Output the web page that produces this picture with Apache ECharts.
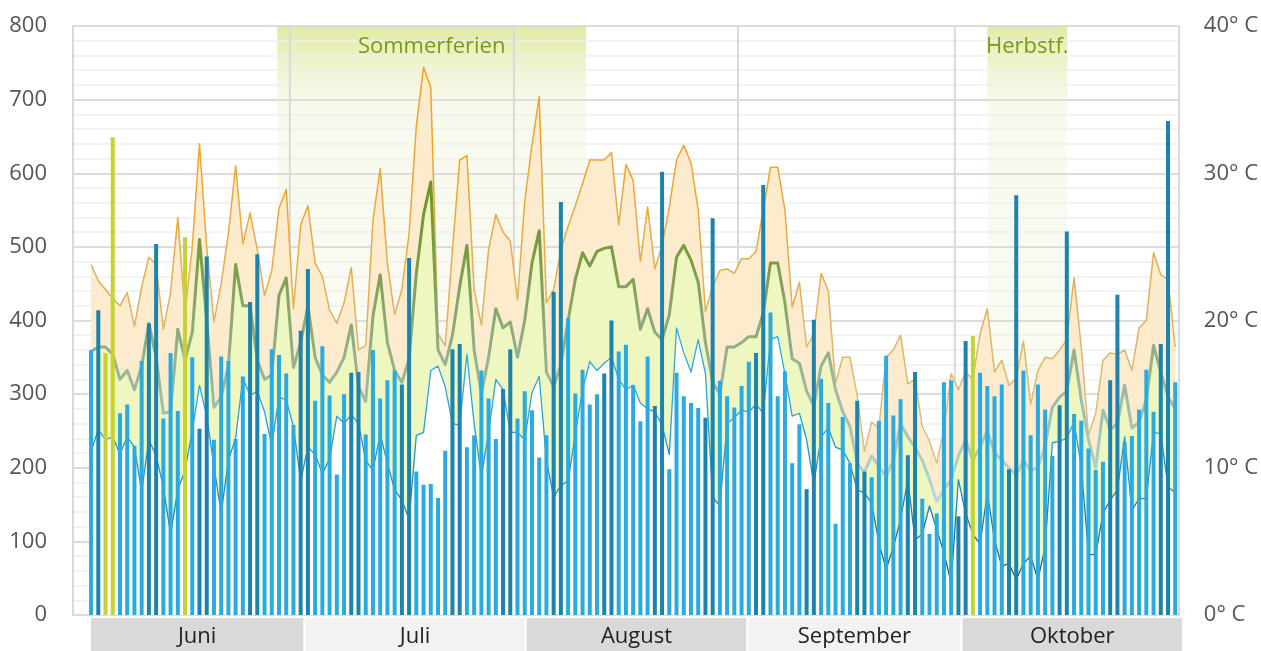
<!DOCTYPE html>
<html>
<head>
<meta charset="utf-8">
<title>Besucher und Temperatur</title>
<script src="https://cdn.jsdelivr.net/npm/echarts@6.0.0/dist/echarts.min.js"></script>
<style>
html, body { margin: 0; padding: 0; background: #fff; }
#chart { width: 1261px; height: 651px; }
</style>
</head>
<body>
<div id="chart"></div>
<script>
// one value per day, starting 3 June 2022
var firstDay = '2022-06-03';

var visitors = [
  360,414,356,649,274,286,230,345,396,504,
  267,356,277,513,350,253,487,238,351,345,
  239,324,425,490,246,361,353,328,258,386,
  470,291,365,298,191,300,329,330,245,360,
  294,319,332,313,485,195,177,178,159,223,
  361,368,228,244,332,294,239,307,361,267,
  304,278,214,244,439,561,403,301,333,286,
  300,328,400,358,367,312,263,351,284,602,
  198,329,297,288,281,268,539,318,297,282,
  311,344,356,584,411,297,331,206,259,171,
  401,321,288,124,269,206,291,195,187,264,
  352,271,293,217,330,158,110,138,316,319,
  134,372,379,329,311,297,313,198,570,332,
  244,313,279,216,285,521,273,264,226,197,
  208,319,435,235,243,279,333,276,368,671,
  316
];

var tempMax = [
  23.8,22.7,22.1,21.5,21.0,21.9,19.6,22.3,24.3,23.8,
  19.4,21.9,27.0,20.5,25.0,32.0,25.0,19.9,22.5,25.9,
  30.5,25.2,27.3,24.8,21.7,23.4,27.6,28.9,20.8,26.5,
  27.8,23.9,23.0,20.7,19.8,21.2,23.6,18.0,18.3,26.8,
  30.3,23.9,20.4,22.1,25.9,33.2,37.2,35.8,19.1,18.3,
  24.8,30.9,31.2,22.1,19.7,24.8,27.2,26.0,25.4,21.4,
  28.1,31.9,35.2,21.2,22.1,24.8,26.4,27.8,29.3,30.9,
  30.9,30.9,31.4,26.5,30.6,29.5,24.0,27.7,23.5,25.1,
  27.7,30.9,31.9,30.7,27.5,20.6,22.3,23.4,23.5,23.2,
  24.2,24.2,24.7,27.5,30.4,30.4,27.5,20.9,22.6,18.2,
  19.1,23.2,22.0,15.7,17.5,17.5,14.9,11.1,13.1,12.7,
  17.5,18.0,19.0,15.7,16.0,12.8,11.8,10.3,12.6,16.4,
  15.3,16.5,16.0,19.1,20.8,16.5,17.3,15.6,16.1,18.6,
  14.3,16.6,17.5,17.4,18.0,18.7,22.9,18.2,12.2,13.7,
  17.3,17.8,17.7,18.0,16.6,19.5,20.0,24.6,23.1,22.8,
  18.2
];

var tempMean = [
  17.9,18.2,18.2,17.7,16.0,16.6,15.3,16.9,19.8,17.5,
  13.7,13.8,19.4,17.3,19.2,25.5,20.0,14.1,14.8,16.9,
  23.8,21.0,21.0,17.3,16.0,16.3,21.7,22.9,16.8,18.5,
  21.0,17.5,16.3,15.8,16.5,17.5,19.7,15.5,14.5,20.3,
  23.1,18.5,16.6,15.8,17.4,23.2,27.2,29.4,18.0,17.0,
  19.0,22.3,25.1,18.0,15.0,17.5,20.8,19.5,19.9,17.5,
  20.0,23.9,26.1,16.5,15.5,17.0,20.0,22.8,24.6,23.7,
  24.7,24.9,25.0,22.3,22.3,22.8,19.4,20.8,19.2,18.7,
  20.4,24.3,25.1,24.1,22.6,18.5,15.8,15.0,18.2,18.2,
  18.5,18.9,18.9,20.5,23.9,23.9,21.2,17.4,17.1,15.2,
  14.2,16.9,17.8,15.3,13.8,12.8,10.3,9.7,10.8,10.1,
  9.4,10.5,13.0,12.1,11.4,10.5,9.2,7.7,8.5,9.2,
  10.8,11.9,10.5,11.4,12.5,11.0,10.5,10.0,9.5,10.5,
  9.8,10.0,11.5,14.1,14.8,15.2,18.0,14.6,11.9,10.0,
  13.9,12.6,13.0,15.6,12.7,13.1,14.6,18.3,16.5,14.8,
  14.0
];

var tempMin = [
  11.1,12.6,11.9,12.1,10.9,12.1,11.4,8.4,11.9,10.8,
  8.7,5.5,8.5,9.8,12.5,15.6,13.5,10.1,6.9,10.5,
  12.0,16.1,14.9,15.2,13.8,11.5,14.8,14.6,12.8,9.1,
  11.4,10.9,9.6,10.6,13.5,13.0,13.6,13.0,10.5,9.8,
  12.3,10.3,8.5,7.8,6.5,12.2,12.4,16.6,16.9,15.5,
  13.0,12.9,17.7,13.0,9.4,12.4,16.0,15.3,12.4,12.4,
  11.9,15.1,16.2,10.5,8.0,8.8,9.1,12.3,15.3,17.2,
  16.6,17.1,17.5,16.0,15.3,15.6,14.4,14.0,13.8,12.9,
  10.9,19.5,17.8,16.5,18.7,16.4,8.0,7.4,13.0,13.4,
  13.9,13.8,14.3,13.7,18.7,18.9,16.4,13.5,13.7,11.9,
  8.9,12.1,12.7,11.4,11.2,10.3,8.5,8.3,7.6,4.9,
  3.1,4.6,6.5,9.2,5.1,5.5,7.4,5.8,4.2,2.2,
  9.2,6.9,5.5,4.8,8.3,5.1,3.3,3.5,2.4,3.5,
  4.0,2.4,4.6,11.7,11.8,12.0,13.1,10.1,4.1,4.1,
  6.9,7.8,8.5,12.1,7.1,7.9,7.9,12.4,12.3,8.7,
  8.3
];

var holidays = ['2022-06-05', '2022-06-06', '2022-06-16', '2022-10-03'];

var monthNames = ['Juni', 'Juli', 'August', 'September', 'Oktober'];
var monthStarts = ['2022-06-01', '2022-07-01', '2022-08-01', '2022-09-01', '2022-10-01', '2022-11-01'];

var ferienNames = ['Sommerferien', 'Herbstf.'];
var ferienFrom = ['2022-06-29T06:00Z', '2022-10-05T12:00Z'];
var ferienTo = ['2022-08-11T00:00Z', '2022-10-16T13:30Z'];

var visitorTicks = { min: 0, max: 800, step: 100 };
var tempTicks = { min: 0, max: 40, step: 10 };

var DAY = 86400000;
var font = '"Open Sans", "Noto Sans", sans-serif';
var t0 = Date.parse(firstDay);
var days = visitors.map(function (v, i) { return t0 + i * DAY + DAY / 2; });
var axisMin = Date.parse(monthStarts[0]);
var axisMax = Date.parse(monthStarts[monthStarts.length - 1]);

function pairs(values) {
  return values.map(function (v, i) { return [days[i], v]; });
}

// weekdays light blue, weekends dark blue, public holidays yellow-green
var barColor = { work: '#29abe2', weekend: '#1b83ad', holiday: '#c5d331' };
var barFill = days.map(function (t) {
  var d = new Date(t);
  var kind = 'work';
  if (d.getUTCDay() === 0 || d.getUTCDay() === 6) kind = 'weekend';
  if (holidays.indexOf(d.toISOString().slice(0, 10)) >= 0) kind = 'holiday';
  return barColor[kind];
});

function areaSeries(values, color) {
  return {
    type: 'line', xAxisIndex: 0, yAxisIndex: 1, data: pairs(values),
    symbol: 'none', silent: true, z: 2,
    lineStyle: { width: 0, opacity: 0 },
    areaStyle: { color: color, opacity: 1 }
  };
}
function lineSeries(values, width) {
  return {
    type: 'line', xAxisIndex: 0, yAxisIndex: 1, data: pairs(values),
    symbol: 'none', silent: true, z: 3,
    lineStyle: { width: width, join: 'round' }
  };
}

var mychart = echarts.init(document.getElementById('chart'));
var option = {
  animation: false,
  backgroundColor: '#fff',
  grid: [
    { left: 73, right: 79, top: 26, bottom: 36 },
    { left: 90, right: 78, top: 618, bottom: 0 }
  ],
  visualMap: [
    { show: false, type: 'continuous', seriesIndex: 3, dimension: 1, min: 10, max: 38,
      inRange: { color: ['#d8c383', '#dcb465', '#eca733', '#f4a01a'] } },
    { show: false, type: 'continuous', seriesIndex: 4, dimension: 1, min: 7, max: 30,
      inRange: { color: ['#bcdcdc', '#a5c3b6', '#91ad86', '#7a9c45', '#6b9520'] } },
    { show: false, type: 'continuous', seriesIndex: 5, dimension: 1, min: 2, max: 20,
      inRange: { color: ['#1b5c78', '#2286b5', '#29a5dd', '#2aaee6'] } }
  ],
  xAxis: [
    { type: 'time', gridIndex: 0, min: axisMin, max: axisMax,
      axisLine: { show: false }, axisTick: { show: false },
      axisLabel: { show: false }, splitLine: { show: false } },
    { type: 'time', gridIndex: 1, min: axisMin, max: axisMax, show: false }
  ],
  yAxis: [
    { type: 'value', gridIndex: 0, min: visitorTicks.min, max: visitorTicks.max, interval: visitorTicks.step,
      axisLine: { show: true, lineStyle: { color: '#d9d9d9', width: 2 } },
      axisTick: { show: false },
      axisLabel: { color: '#555', fontSize: 22, margin: 26, fontFamily: font },
      splitLine: { lineStyle: { color: '#dcdcdc', width: 2 } },
      minorTick: { show: false, splitNumber: 5 },
      minorSplitLine: { show: true, lineStyle: { color: '#eeeeee', width: 1.5 } } },
    { type: 'value', gridIndex: 0, position: 'right', min: tempTicks.min, max: tempTicks.max, interval: tempTicks.step,
      axisLine: { show: true, lineStyle: { color: '#d9d9d9', width: 2 } },
      axisTick: { show: false },
      axisLabel: { color: '#555', fontSize: 22, margin: 25, fontFamily: font, formatter: '{value}° C' },
      splitLine: { show: false } },
    { type: 'value', gridIndex: 1, min: 0, max: 1, show: false }
  ],
  series: [
    areaSeries(tempMax, '#fdebcd'),
    areaSeries(tempMean, '#eef7c0'),
    areaSeries(tempMin, '#ffffff'),
    lineSeries(tempMax, 1.5),
    lineSeries(tempMean, 3),
    lineSeries(tempMin, 1.3),
    {
      // daily visitor bars (custom, so the time axis keeps its exact extent)
      type: 'custom', xAxisIndex: 0, yAxisIndex: 0, z: 5, silent: true,
      data: pairs(visitors),
      encode: { x: 0, y: 1 },
      renderItem: function (params, api) {
        var top = api.coord([api.value(0), api.value(1)]);
        var base = api.coord([api.value(0), visitorTicks.min]);
        return {
          type: 'rect',
          shape: { x: top[0] - 2, y: top[1], width: 4, height: base[1] - top[1] },
          style: { fill: barFill[params.dataIndex] }
        };
      }
    },
    {
      // school holiday bands behind the grid lines
      type: 'custom', xAxisIndex: 0, yAxisIndex: 0, z: -1, silent: true,
      data: ferienNames.map(function (n, i) { return [Date.parse(ferienFrom[i]), Date.parse(ferienTo[i])]; }),
      encode: { x: [0, 1] },
      renderItem: function (params, api) {
        var a = api.coord([api.value(0), visitorTicks.min]);
        var b = api.coord([api.value(1), visitorTicks.max]);
        return {
          type: 'rect',
          shape: { x: a[0], y: b[1], width: b[0] - a[0], height: a[1] - b[1] },
          style: { fill: new echarts.graphic.LinearGradient(0, 0, 0, 1, [
            { offset: 0, color: '#e2eaa1' },
            { offset: 0.03, color: '#e8efb6' },
            { offset: 0.07, color: '#f0f4cf' },
            { offset: 0.11, color: '#f6f8e4' },
            { offset: 0.15, color: '#f9faee' },
            { offset: 1, color: '#fcfdf6' }
          ]) }
        };
      }
    },
    {
      type: 'custom', xAxisIndex: 0, yAxisIndex: 0, z: 6, silent: true,
      data: ferienNames.map(function (n, i) { return [Date.parse(ferienFrom[i]), Date.parse(ferienTo[i])]; }),
      encode: { x: [0, 1] },
      renderItem: function (params, api) {
        var a = api.coord([api.value(0), visitorTicks.max]);
        var b = api.coord([api.value(1), visitorTicks.max]);
        return {
          type: 'text',
          style: { text: ferienNames[params.dataIndex], x: (a[0] + b[0]) / 2, y: a[1] + 21,
            align: 'center', verticalAlign: 'middle', font: '22px ' + font, fill: '#7a9a16' }
        };
      }
    },
    {
      // month boundaries
      type: 'custom', xAxisIndex: 0, yAxisIndex: 0, z: 1, silent: true,
      data: monthStarts.slice(1, -1).map(function (m) { return [Date.parse(m)]; }),
      encode: { x: 0 },
      renderItem: function (params, api) {
        var top = api.coord([api.value(0), visitorTicks.max]);
        var bottom = api.coord([api.value(0), visitorTicks.min]);
        return {
          type: 'line',
          shape: { x1: top[0], y1: top[1], x2: bottom[0], y2: bottom[1] },
          style: { stroke: '#d9d9d9', lineWidth: 2 }
        };
      }
    },
    {
      // month band under the plot
      type: 'custom', xAxisIndex: 1, yAxisIndex: 2, silent: true,
      data: monthNames.map(function (n, i) { return [Date.parse(monthStarts[i]), Date.parse(monthStarts[i + 1])]; }),
      encode: { x: [0, 1] },
      renderItem: function (params, api) {
        var a = api.coord([api.value(0), 0]);
        var b = api.coord([api.value(1), 1]);
        var cs = params.coordSys;
        return {
          type: 'group',
          children: [
            { type: 'rect', shape: { x: a[0] + 1, y: cs.y, width: b[0] - a[0] - 2, height: cs.height },
              style: { fill: params.dataIndex % 2 ? '#f2f2f2' : '#d9d9d9' } },
            { type: 'text', style: { text: monthNames[params.dataIndex], x: (a[0] + b[0]) / 2, y: cs.y + cs.height / 2 + 2,
              align: 'center', verticalAlign: 'middle', font: '22px ' + font, fill: '#222' } }
          ]
        };
      }
    }
  ]
};
mychart.setOption(option);
window.onresize = mychart.resize;
</script>
</body>
</html>
